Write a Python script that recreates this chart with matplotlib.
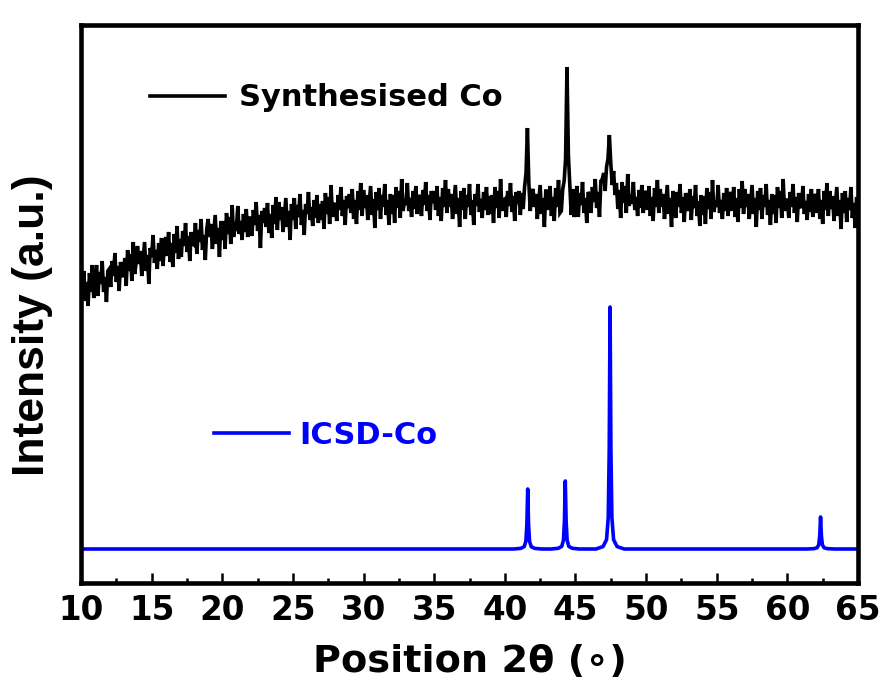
import numpy as np
import matplotlib
matplotlib.use("Agg")
import matplotlib.pyplot as plt

# ---------------- data ----------------
two_theta_start = 10.0
two_theta_step = 0.1

synth_intensity = [
    307, 288, 312, 282, 301, 277, 310, 291, 318, 285,   # 10
    296, 318, 287, 311, 299, 322, 291, 306, 281, 312,   # 11
    314, 296, 322, 307, 330, 301, 317, 292, 321, 309,   # 12
    306, 325, 297, 333, 312, 329, 302, 341, 309, 320,   # 13
    337, 319, 332, 307, 324, 341, 312, 328, 299, 335,   # 14
    326, 348, 320, 333, 314, 340, 322, 345, 317, 336,   # 15
    346, 327, 351, 321, 340, 316, 349, 330, 357, 324,   # 16
    344, 326, 352, 337, 360, 331, 347, 322, 351, 339,   # 17
    338, 360, 329, 353, 341, 364, 333, 348, 323, 354,   # 18
    364, 346, 359, 334, 351, 368, 339, 355, 326, 362,   # 19
    343, 362, 334, 370, 349, 366, 339, 378, 346, 357,   # 20
    355, 377, 349, 362, 343, 369, 351, 374, 346, 365,   # 21
    365, 347, 373, 358, 381, 352, 368, 335, 372, 360,   # 22
    375, 356, 380, 350, 369, 345, 378, 359, 386, 353,   # 23
    381, 363, 376, 351, 368, 385, 356, 372, 343, 379,   # 24
    363, 385, 354, 378, 366, 389, 358, 373, 348, 379,   # 25
    369, 391, 363, 376, 357, 383, 365, 388, 360, 379,   # 26
    363, 382, 354, 390, 369, 386, 359, 398, 366, 377,   # 27
    380, 362, 388, 373, 396, 367, 383, 358, 387, 375,   # 28
    389, 370, 394, 364, 383, 359, 392, 373, 400, 367,   # 29
    393, 375, 388, 363, 380, 397, 368, 384, 355, 391,   # 30
    373, 395, 364, 388, 376, 399, 368, 383, 358, 389,   # 31
    369, 388, 360, 396, 375, 392, 365, 404, 372, 383,   # 32
    378, 400, 372, 385, 366, 392, 374, 397, 369, 388,   # 33
    385, 367, 393, 378, 401, 372, 388, 363, 392, 380,   # 34
    392, 373, 397, 367, 386, 362, 395, 376, 403, 370,   # 35
    394, 376, 389, 364, 381, 398, 369, 385, 356, 392,   # 36
    373, 395, 364, 388, 376, 399, 368, 383, 358, 389,   # 37
    377, 399, 371, 384, 365, 391, 373, 396, 368, 387,   # 38
    369, 388, 360, 396, 375, 392, 365, 404, 372, 383,   # 39
    384, 366, 392, 377, 400, 371, 387, 362, 391, 379,   # 40
    392, 368, 390, 374, 396, 410, 455, 400, 372, 390,   # 41
    394, 376, 389, 364, 381, 398, 369, 385, 356, 392,   # 42
    392, 373, 397, 367, 386, 362, 395, 376, 403, 370,   # 43
    372, 394, 402, 424, 516, 428, 398, 368, 394, 366,   # 44
    375, 397, 366, 390, 378, 401, 370, 385, 360, 391,   # 45
    388, 370, 396, 381, 404, 375, 391, 366, 402, 404,   # 46
    410, 392, 416, 424, 448, 420, 398, 412, 388, 400,   # 47
    374, 393, 365, 401, 380, 397, 370, 409, 377, 388,   # 48
    379, 401, 373, 386, 367, 393, 375, 398, 370, 389,   # 49
    392, 373, 397, 367, 386, 362, 395, 376, 403, 370,   # 50
    394, 376, 389, 364, 381, 398, 369, 385, 356, 392,   # 51
    383, 365, 391, 376, 399, 370, 386, 361, 390, 378,   # 52
    372, 394, 363, 387, 375, 398, 367, 382, 357, 388,   # 53
    368, 387, 359, 395, 374, 391, 364, 403, 371, 382,   # 54
    376, 398, 370, 383, 364, 390, 372, 395, 367, 386,   # 55
    391, 372, 396, 366, 385, 361, 394, 375, 402, 369,   # 56
    394, 376, 389, 364, 381, 398, 369, 385, 356, 392,   # 57
    373, 395, 364, 388, 376, 399, 368, 383, 358, 389,   # 58
    369, 388, 360, 396, 375, 392, 365, 404, 372, 383,   # 59
    383, 365, 391, 376, 399, 370, 386, 361, 390, 378,   # 60
    375, 397, 369, 382, 363, 389, 371, 394, 366, 385,   # 61
    389, 370, 394, 364, 383, 359, 392, 373, 400, 367,   # 62
    392, 374, 387, 362, 379, 396, 367, 383, 354, 390,   # 63
    370, 392, 361, 385, 373, 396, 365, 380, 355, 386,   # 64
    378,                                                # 65
]

icsd_two_theta = [10.0,
                  40.62, 41.12, 41.37, 41.49, 41.56, 41.62, 41.68, 41.75, 41.87, 42.12, 42.62,
                  43.28, 43.78, 44.03, 44.15, 44.22, 44.28, 44.34, 44.41, 44.53, 44.78, 45.28,
                  46.45, 46.95, 47.20, 47.32, 47.39, 47.45, 47.51, 47.58, 47.70, 47.95, 48.45,
                  61.35, 61.85, 62.10, 62.22, 62.29, 62.35, 62.41, 62.48, 62.60, 62.85, 63.35,
                  65.0]
icsd_intensity = [34.0,
                  34.0, 34.6, 36.3, 41.7, 58.6, 94.0, 58.6, 41.7, 36.3, 34.6, 34.0,
                  34.0, 34.7, 36.6, 42.8, 61.9, 102.0, 61.9, 42.8, 36.6, 34.7, 34.0,
                  34.0, 36.4, 43.3, 65.2, 133.0, 276.0, 133.0, 65.2, 43.3, 36.4, 34.0,
                  34.0, 34.3, 35.2, 38.1, 47.1, 66.0, 47.1, 38.1, 35.2, 34.3, 34.0,
                  34.0]

series_labels = ["Synthesised Co", "ICSD-Co"]
series_colors = ["#000000", "#0000FF"]
x_ticks = [10, 15, 20, 25, 30, 35, 40, 45, 50, 55, 60, 65]

# ---------------- plot ----------------
W, H = 884, 689
fig = plt.figure(figsize=(W / 100, H / 100), dpi=100)
L, R, T, B = 81, 858, 25, 583
ax = fig.add_axes([L / W, (H - B) / H, (R - L) / W, (B - T) / H])

synth_x = two_theta_start + two_theta_step * np.arange(len(synth_intensity))
l1, = ax.plot(synth_x, synth_intensity, color=series_colors[0], lw=2.6,
              solid_joinstyle="miter")
l2, = ax.plot(icsd_two_theta, icsd_intensity, color=series_colors[1], lw=2.6)

ax.set_xlim(10, 65)
ax.set_ylim(0, 558)
ax.set_yticks([])
ax.set_xticks(x_ticks)
ax.set_xticks([t + 2.5 for t in x_ticks[:-1]], minor=True)
ax.tick_params(axis="x", which="major", direction="in", length=7.5, width=1.8,
               pad=8, top=False)
ax.tick_params(axis="x", which="minor", direction="in", length=3.5, width=1.8,
               top=False)
for lab in ax.get_xticklabels():
    lab.set_fontfamily("DejaVu Sans")
    lab.set_fontweight("bold")
    lab.set_fontsize(23.5)
for s in ax.spines.values():
    s.set_linewidth(3.3)

ax.set_xlabel("Position 2\u03b8 (\u2218)", fontfamily="DejaVu Sans",
              fontweight="bold", fontsize=27.5, labelpad=12)
ax.set_ylabel("Intensity (a.u.)", fontfamily="Liberation Sans",
              fontweight="bold", fontsize=32)
ax.yaxis.set_label_coords(-0.036, 0.462)

leg1 = ax.legend([l1], [series_labels[0]], loc="center left",
                 bbox_to_anchor=((150 - L) / (R - L), (B - 98) / (B - T)),
                 frameon=False, handlelength=2.45, handletextpad=0.45,
                 borderpad=0, borderaxespad=0,
                 prop={"family": "DejaVu Sans", "weight": "bold", "size": 22})
ax.add_artist(leg1)
leg2 = ax.legend([l2], [series_labels[1]], loc="center left",
                 bbox_to_anchor=((214 - L) / (R - L), (B - 435) / (B - T)),
                 frameon=False, handlelength=2.45, handletextpad=0.35,
                 borderpad=0, borderaxespad=0, labelcolor=[series_colors[1]],
                 prop={"family": "DejaVu Sans", "weight": "bold", "size": 22})

fig.savefig("out.png", dpi=100)
